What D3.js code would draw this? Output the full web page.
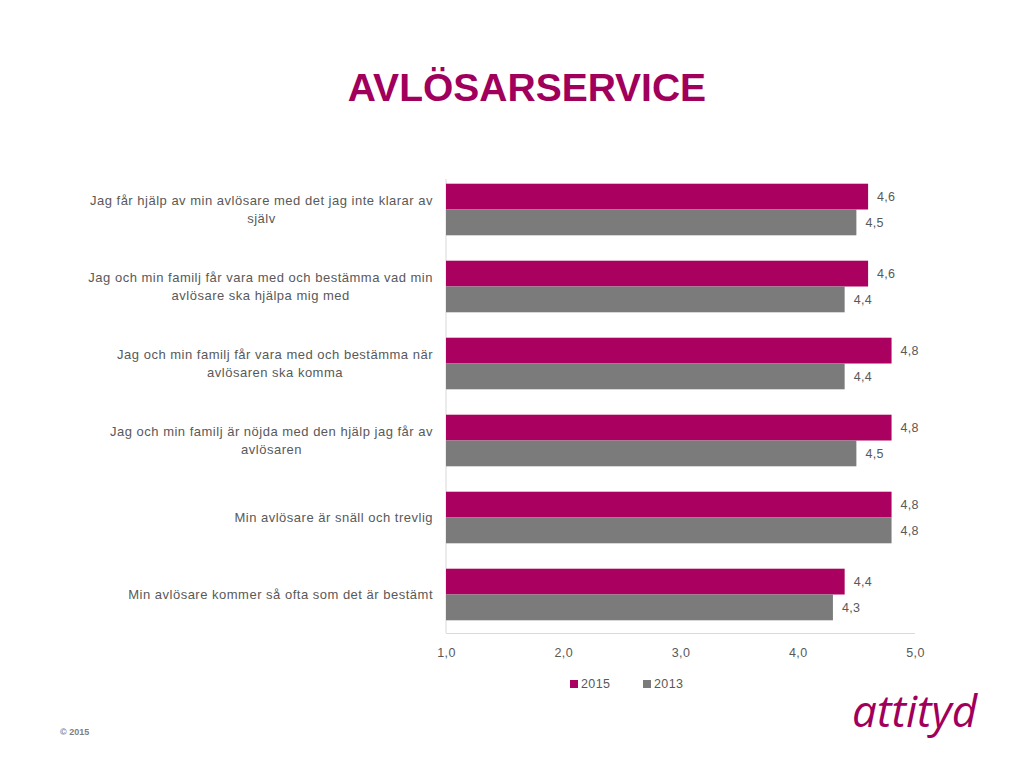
<!DOCTYPE html>
<html>
<head>
<meta charset="utf-8">
<script src="https://cdn.jsdelivr.net/npm/d3@7"></script>
<style>
  html, body { margin: 0; padding: 0; background: #fff; }
  svg { display: block; font-family: "Liberation Sans", Arial, sans-serif; }
</style>
</head>
<body>
<svg id="chart" width="1023" height="768"></svg>
<script>
// ---- data ----
const title = "AVLÖSARSERVICE";
const categories = [
  "Jag får hjälp av min avlösare med det jag inte klarar av|själv",
  "Jag och min familj får vara med och bestämma vad min|avlösare ska hjälpa mig med",
  "Jag och min familj får vara med och bestämma när|avlösaren ska komma",
  "Jag och min familj är nöjda med den hjälp jag får av|avlösaren",
  "Min avlösare är snäll och trevlig",
  "Min avlösare kommer så ofta som det är bestämt"
];
const seriesNames = ["2015", "2013"];
const values2015 = [4.6, 4.6, 4.8, 4.8, 4.8, 4.4];
const values2013 = [4.5, 4.4, 4.4, 4.5, 4.8, 4.3];
const tickValues = [1, 2, 3, 4, 5];
const colors = ["#AA0060", "#7B7B7B"];

// ---- layout ----
const svg = d3.select("#chart");
const plotLeft = 446, plotRight = 915, plotTop = 171, plotBottom = 633;
const textColor = "#595959";
const fmt = v => d3.format(".1f")(v).replace(".", ",");

svg.append("text")
  .attr("x", 527).attr("y", 101)
  .attr("text-anchor", "middle")
  .attr("font-size", 39).attr("font-weight", "bold")
  .attr("fill", "#A0005C")
  .text(title);

const x = d3.scaleLinear().domain([1, 5]).range([plotLeft, plotRight]);
const y = d3.scaleBand().domain(d3.range(categories.length)).range([plotTop, plotBottom]).paddingInner(0.33).paddingOuter(0.165);
const ySub = d3.scaleBand().domain([0, 1]).range([0, y.bandwidth()]);

// axes lines
svg.append("line").attr("x1", plotLeft).attr("x2", plotLeft).attr("y1", plotTop + 8).attr("y2", plotBottom)
  .attr("stroke", "#D9D9D9").attr("stroke-width", 1);
svg.append("line").attr("x1", plotLeft).attr("x2", plotRight).attr("y1", plotBottom + 0.5).attr("y2", plotBottom + 0.5)
  .attr("stroke", "#D9D9D9").attr("stroke-width", 1);

// x axis tick labels
const xAxis = d3.axisBottom(x).tickValues(tickValues).tickFormat(fmt).tickSize(0).tickPadding(15);
const gx = svg.append("g").attr("transform", `translate(0,${plotBottom})`).call(xAxis);
gx.select(".domain").remove();
gx.selectAll("text").attr("fill", textColor).attr("font-size", 12.5).attr("letter-spacing", 0.4)
  .attr("font-family", "Liberation Sans, Arial, sans-serif");

// bars
const series = [values2015, values2013];
series.forEach((vals, si) => {
  const g = svg.append("g");
  g.selectAll("rect").data(vals).join("rect")
    .attr("x", x(1))
    .attr("y", (d, i) => y(i) + ySub(si))
    .attr("width", d => x(d) - x(1))
    .attr("height", ySub.bandwidth())
    .attr("fill", colors[si]);
  g.selectAll("text").data(vals).join("text")
    .attr("x", d => x(d) + 9)
    .attr("y", (d, i) => y(i) + ySub(si) + ySub.bandwidth() / 2)
    .attr("dy", "0.35em")
    .attr("font-size", 12.5)
    .attr("letter-spacing", 0.3)
    .attr("fill", textColor)
    .text(d => fmt(d));
});

// category labels (centered block, right-aligned)
const labelRight = 433;
categories.forEach((c, i) => {
  const lines = c.split("|");
  const t = svg.append("text").attr("font-size", 13).attr("letter-spacing", 0.5)
    .attr("fill", textColor).attr("text-anchor", "middle");
  const lh = 18;
  const cy = y(i) + y.bandwidth() / 2;
  const tspans = lines.map((l, k) => t.append("tspan")
    .attr("y", cy + (k - (lines.length - 1) / 2) * lh)
    .attr("dy", "0.35em")
    .text(l));
  let maxW = 0;
  tspans.forEach(s => { maxW = Math.max(maxW, s.node().getComputedTextLength()); });
  tspans.forEach(s => s.attr("x", labelRight - maxW / 2));
});

// legend
const legend = svg.append("g").attr("transform", "translate(570,684)");
seriesNames.forEach((n, i) => {
  const g = legend.append("g").attr("transform", `translate(${i * 73},0)`);
  g.append("rect").attr("x", 0).attr("y", -4).attr("width", 8).attr("height", 8).attr("fill", colors[i]);
  g.append("text").attr("x", 11).attr("y", 0).attr("dy", "0.35em").attr("letter-spacing", 0.4)
    .attr("font-size", 12.5).attr("fill", textColor).text(n);
});

// footer
svg.append("text").attr("x", 60).attr("y", 735).attr("font-size", 9).attr("font-weight", "bold")
  .attr("fill", "#7F7F7F").text("© 2015");
svg.append("text").attr("x", 852).attr("y", 727).attr("font-size", 44)
  .attr("font-style", "italic").attr("fill", "#A0005C")
  .attr("font-family", "Open Sans, Liberation Sans, sans-serif").text("attityd");
</script>
</body>
</html>
